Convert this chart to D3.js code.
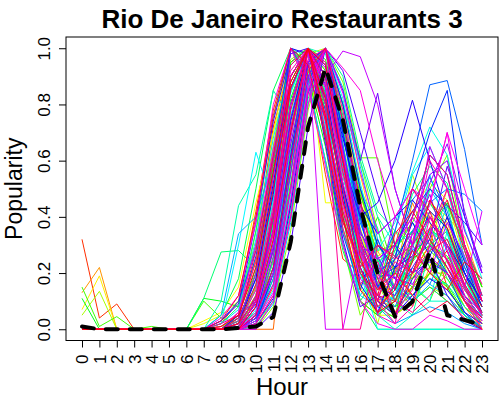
<!DOCTYPE html>
<html>
<head>
<meta charset="utf-8">
<script src="https://cdn.jsdelivr.net/npm/d3@7"></script>
<style>
    body { margin: 0; background: #fff; }
    text { font-family: "Liberation Sans", Arial, sans-serif; }
</style>
</head>
<body>
<div id="chart"></div>
<script>
var hours = [0, 1, 2, 3, 4, 5, 6, 7, 8, 9, 10, 11, 12, 13, 14, 15, 16, 17, 18, 19, 20, 21, 22, 23]
var yTicks = [0, 0.2, 0.4, 0.6, 0.8, 1.0]

// dashed black line (overall curve)
var meanPopularity = [0.01, 0, 0, 0, 0, 0, 0, 0, 0, 0.005, 0.01, 0.044, 0.31, 0.72, 0.93, 0.745, 0.436, 0.2, 0.045, 0.098, 0.276, 0.05, 0.033, 0.015]

// one row per restaurant, popularity by hour
var restaurants = [
    [0, 0, 0, 0, 0, 0, 0, 0, 0, 0.06, 0.3, 0.72, 0.95, 1, 0.7, 0.35, 0.18, 0.3, 0.22, 0.12, 0.2, 0.28, 0.1, 0],
    [0, 0, 0, 0, 0, 0, 0, 0, 0, 0, 0.05, 0.3, 0.75, 1, 0.85, 0.55, 0.3, 0.12, 0.1, 0.2, 0.3, 0.25, 0.1, 0.02],
    [0, 0, 0, 0, 0, 0, 0, 0, 0, 0, 0.02, 0.12, 0.45, 0.85, 1, 0.8, 0.5, 0.25, 0.15, 0.2, 0.3, 0.25, 0.1, 0.03],
    [0.32, 0.04, 0.09, 0, 0, 0, 0, 0, 0, 0, 0.05, 0.4, 0.8, 1, 0.9, 0.6, 0.3, 0.1, 0.15, 0.2, 0.3, 0.25, 0.1, 0.05],
    [0, 0, 0, 0, 0, 0, 0, 0, 0.02, 0.1, 0.42, 0.78, 1, 0.9, 0.55, 0.25, 0.2, 0.1, 0.3, 0.2, 0.35, 0.15, 0.05, 0],
    [0, 0, 0, 0, 0, 0, 0, 0, 0, 0.02, 0.15, 0.55, 1, 0.9, 0.7, 0.4, 0.2, 0.1, 0.08, 0.15, 0.25, 0.2, 0.1, 0],
    [0, 0, 0, 0, 0, 0, 0, 0, 0, 0.02, 0.1, 0.4, 0.85, 1, 0.9, 0.6, 0.35, 0.2, 0.15, 0.25, 0.35, 0.3, 0.15, 0.05],
    [0, 0, 0, 0, 0, 0, 0, 0, 0, 0, 0, 0, 0.6, 1, 0.95, 0.6, 0.3, 0.1, 0.05, 0.1, 0.15, 0.1, 0.05, 0],
    [0, 0, 0, 0, 0, 0, 0, 0, 0, 0, 0.03, 0.15, 0.5, 0.9, 1, 0.75, 0.45, 0.2, 0.1, 0.15, 0.25, 0.2, 0.08, 0],
    [0, 0, 0, 0, 0, 0, 0, 0, 0, 0.04, 0.25, 0.6, 0.9, 1, 0.75, 0.4, 0.1, 0.05, 0.2, 0.45, 0.3, 0.5, 0.25, 0.05],
    [0.13, 0.22, 0, 0, 0, 0, 0, 0, 0, 0.05, 0.15, 0.5, 0.85, 1, 0.95, 0.7, 0.4, 0.2, 0.1, 0.25, 0.4, 0.3, 0.15, 0],
    [0, 0, 0, 0, 0, 0, 0, 0, 0, 0, 0.03, 0.25, 0.7, 1, 0.95, 0.7, 0.4, 0.2, 0.1, 0.15, 0.2, 0.2, 0.1, 0],
    [0, 0, 0, 0, 0, 0, 0, 0, 0.01, 0.05, 0.25, 0.65, 1, 0.95, 0.75, 0.45, 0.25, 0.15, 0.1, 0.2, 0.3, 0.25, 0.15, 0.05],
    [0, 0, 0, 0, 0, 0, 0, 0, 0, 0, 0.2, 0.55, 0.85, 1, 0.9, 0.45, 0.15, 0.28, 0.15, 0.08, 0.22, 0.4, 0.33, 0.15],
    [0, 0, 0, 0, 0, 0, 0, 0, 0, 0, 0.01, 0.1, 0.4, 0.8, 1, 0.85, 0.55, 0.3, 0.25, 0.35, 0.45, 0.38, 0.2, 0.08],
    [0, 0, 0, 0, 0, 0, 0, 0, 0, 0, 0.08, 0.35, 0.8, 1, 0.8, 0.5, 0.25, 0.1, 0.12, 0.3, 0.45, 0.4, 0.2, 0.08],
    [0.07, 0.19, 0, 0, 0, 0, 0, 0, 0, 0, 0.1, 0.45, 0.9, 1, 0.85, 0.6, 0.35, 0.15, 0.2, 0.3, 0.45, 0.35, 0.1, 0.05],
    [0, 0, 0, 0, 0, 0, 0, 0.03, 0.06, 0.15, 0.45, 0.7, 0.92, 1, 0.8, 0.5, 0.35, 0.12, 0.06, 0.18, 0.42, 0.3, 0.12, 0.02],
    [0, 0, 0, 0, 0, 0, 0, 0, 0, 0, 0.05, 0.3, 0.8, 1, 0.45, 0.45, 0.45, 0.3, 0.2, 0.3, 0.4, 0.3, 0.15, 0.05],
    [0, 0, 0, 0, 0, 0, 0, 0.02, 0.05, 0.1, 0.3, 0.7, 1, 0.85, 0.6, 0.35, 0.15, 0.05, 0.05, 0.1, 0.2, 0.15, 0.05, 0],
    [0, 0, 0, 0, 0, 0, 0, 0, 0, 0, 0.05, 0.2, 0.55, 0.92, 1, 0.78, 0.48, 0.26, 0.3, 0.42, 0.52, 0.46, 0.24, 0.1],
    [0, 0, 0, 0, 0, 0, 0, 0, 0.01, 0.03, 0.12, 0.45, 0.88, 1, 0.86, 0.58, 0.32, 0.18, 0.2, 0.32, 0.42, 0.36, 0.22, 0.1],
    [0, 0, 0, 0, 0, 0, 0, 0, 0, 0.03, 0.15, 0.45, 0.82, 0.98, 1, 0.62, 0.22, 0.02, 0.25, 0.55, 0.38, 0.2, 0.08, 0.03],
    [0.05, 0.135, 0, 0, 0, 0, 0, 0, 0, 0, 0.08, 0.3, 0.7, 0.95, 1, 0.8, 0.5, 0.25, 0.15, 0.1, 0.2, 0.15, 0.05, 0],
    [0, 0, 0, 0, 0, 0, 0, 0, 0, 0, 0.02, 0.2, 0.65, 1, 0.92, 0.66, 0.36, 0.16, 0.05, 0.1, 0.15, 0.12, 0.05, 0],
    [0, 0, 0, 0, 0, 0, 0, 0, 0, 0, 0, 0.08, 0.35, 0.78, 1, 0.88, 0.6, 0.35, 0.2, 0.18, 0.22, 0.18, 0.1, 0.02],
    [0, 0, 0, 0, 0, 0, 0, 0, 0.01, 0.04, 0.35, 0.65, 0.96, 1, 0.7, 0.3, 0.05, 0.15, 0.35, 0.25, 0.5, 0.62, 0.28, 0.1],
    [0, 0, 0, 0, 0, 0, 0, 0, 0, 0, 0.1, 0.5, 1, 0.95, 0.8, 0.5, 0.3, 0.2, 0.25, 0.35, 0.4, 0.3, 0.2, 0.1],
    [0, 0, 0, 0, 0, 0, 0, 0, 0, 0, 0.04, 0.25, 0.7, 0.95, 1, 0.8, 0.61, 0.61, 0.3, 0.25, 0.35, 0.3, 0.15, 0.05],
    [0, 0, 0, 0, 0, 0, 0, 0, 0, 0.01, 0.06, 0.32, 0.78, 1, 0.88, 0.62, 0.42, 0.28, 0.3, 0.38, 0.5, 0.44, 0.3, 0.15],
    [0.15, 0.01, 0.045, 0, 0.01, 0, 0, 0.1, 0.04, 0.02, 0.2, 0.5, 0.9, 1, 0.8, 0.55, 0.3, 0.1, 0.05, 0.15, 0.25, 0.2, 0.1, 0.02],
    [0, 0, 0, 0, 0, 0, 0, 0, 0, 0, 0.12, 0.38, 0.7, 1, 0.92, 0.5, 0.25, 0.4, 0.2, 0.15, 0.1, 0.25, 0.3, 0.12],
    [0, 0, 0, 0, 0, 0, 0, 0, 0, 0, 0.04, 0.18, 0.52, 0.88, 1, 0.72, 0.4, 0.16, 0.08, 0.12, 0.2, 0.16, 0.06, 0],
    [0, 0, 0, 0, 0, 0, 0, 0, 0, 0, 0.04, 0.28, 0.72, 1, 0.96, 0.72, 0.48, 0.3, 0.22, 0.18, 0.28, 0.22, 0.12, 0.04],
    [0, 0, 0, 0, 0, 0, 0, 0, 0, 0.03, 0.2, 0.6, 1, 0.9, 0.65, 0.3, 0.1, 0.05, 0.1, 0.2, 0.35, 0.45, 0.3, 0.15],
    [0, 0, 0, 0, 0, 0, 0, 0, 0, 0.02, 0.22, 0.58, 0.88, 1, 0.78, 0.42, 0.2, 0.08, 0.04, 0.35, 0.22, 0.15, 0.05, 0],
    [0.11, 0, 0, 0, 0, 0, 0, 0.11, 0.1, 0.08, 0.3, 0.6, 0.95, 1, 0.9, 0.6, 0.3, 0.2, 0.2, 0.25, 0.3, 0.35, 0.2, 0.1],
    [0, 0, 0, 0, 0, 0, 0, 0, 0, 0.01, 0.06, 0.22, 0.58, 0.94, 1, 0.76, 0.44, 0.24, 0.28, 0.38, 0.3, 0.26, 0.16, 0.06],
    [0, 0, 0, 0, 0, 0, 0, 0, 0, 0, 0.1, 0.38, 0.82, 1, 0.84, 0.52, 0.2, 0.05, 0.1, 0.25, 0.35, 0.32, 0.18, 0.06],
    [0, 0, 0, 0, 0, 0, 0, 0, 0, 0, 0.1, 0.5, 0.9, 1, 0.8, 0.4, 0.1, 0, 0, 0, 0, 0, 0, 0],
    [0, 0, 0, 0, 0, 0, 0, 0, 0.05, 0.18, 0.5, 0.85, 1, 0.88, 0.6, 0.28, 0.1, 0.2, 0.14, 0.24, 0.32, 0.18, 0.08, 0.02],
    [0, 0, 0, 0, 0, 0, 0, 0, 0.02, 0.08, 0.35, 0.75, 1, 0.92, 0.7, 0.5, 0.3, 0.2, 0.15, 0.1, 0.15, 0.1, 0.05, 0],
    [0, 0, 0, 0, 0, 0, 0, 0.11, 0.275, 0.28, 0.22, 0.5, 0.8, 1, 0.95, 0.7, 0.45, 0.25, 0.1, 0.3, 0.45, 0.35, 0.15, 0.05],
    [0, 0, 0, 0, 0, 0, 0, 0, 0, 0.02, 0.14, 0.5, 0.9, 1, 0.8, 0.48, 0.24, 0.14, 0.28, 0.48, 0.58, 0.52, 0.28, 0.1],
    [0, 0, 0, 0, 0, 0, 0, 0, 0, 0, 0.02, 0.1, 0.42, 0.82, 1, 0.9, 0.62, 0.42, 0.35, 0.3, 0.36, 0.3, 0.18, 0.08],
    [0, 0, 0, 0, 0, 0, 0, 0, 0, 0, 0.06, 0.24, 0.64, 0.9, 1, 0.72, 0.5, 0.36, 0.1, 0.05, 0.28, 0.44, 0.2, 0.08],
    [0, 0, 0, 0, 0, 0, 0, 0, 0.1, 0.44, 0.55, 0.85, 0.75, 0.9, 1, 0.8, 0.6, 0.4, 0.3, 0.35, 0.3, 0.2, 0.1, 0.05],
    [0, 0, 0, 0, 0, 0, 0, 0, 0, 0, 0.03, 0.22, 0.6, 1, 0.98, 0.75, 0.45, 0.25, 0.15, 0.12, 0.18, 0.16, 0.08, 0.02],
    [0, 0, 0, 0, 0, 0, 0, 0, 0, 0, 0.05, 0.45, 1, 0.97, 0.85, 0.55, 0.25, 0.05, 0, 0.05, 0.1, 0.1, 0.05, 0],
    [0, 0, 0, 0, 0, 0, 0, 0, 0, 0.01, 0.16, 0.46, 0.84, 1, 0.8, 0.36, 0.12, 0.22, 0.3, 0.16, 0.1, 0.35, 0.18, 0.04],
    [0, 0, 0, 0, 0, 0, 0, 0, 0, 0, 0.03, 0.14, 0.48, 0.86, 1, 0.82, 0.52, 0.28, 0.38, 0.56, 0.72, 0.62, 0.36, 0.18],
    [0, 0, 0, 0, 0, 0, 0, 0, 0, 0, 0.05, 0.3, 0.8, 1, 0.9, 0.5, 0.2, 0, 0, 0, 0, 0, 0, 0],
    [0, 0, 0, 0, 0, 0, 0, 0, 0.02, 0.3, 0.63, 0.45, 0.6, 0.9, 1, 0.7, 0.4, 0.15, 0.1, 0.2, 0.35, 0.3, 0.1, 0.02],
    [0, 0, 0, 0, 0, 0, 0, 0, 0, 0, 0.07, 0.34, 0.76, 1, 0.9, 0.64, 0.38, 0.22, 0.35, 0.55, 0.65, 0.5, 0.25, 0.12],
    [0, 0, 0, 0, 0, 0, 0, 0, 0.02, 0.07, 0.32, 0.68, 0.94, 1, 0.72, 0.4, 0.3, 0.05, 0.12, 0.28, 0.55, 0.34, 0.14, 0.05],
    [0, 0, 0, 0, 0, 0, 0, 0, 0, 0.01, 0.12, 0.5, 1, 0.88, 0.6, 0.3, 0.12, 0.08, 0.12, 0.3, 0.5, 0.4, 0.25, 0.1],
    [0, 0, 0, 0, 0, 0, 0, 0, 0, 0, 0.01, 0.09, 0.38, 0.8, 1, 0.86, 0.58, 0.32, 0.14, 0.1, 0.16, 0.12, 0.05, 0.01],
    [0, 0, 0, 0, 0, 0, 0, 0, 0.05, 0.34, 0.4, 0.6, 0.85, 1, 0.9, 0.65, 0.3, 0.15, 0.2, 0.25, 0.4, 0.3, 0.2, 0.05],
    [0, 0, 0, 0, 0, 0, 0, 0, 0, 0, 0.02, 0.18, 0.55, 1, 0.9, 0.58, 0.28, 0.08, 0.02, 0.05, 0.08, 0.06, 0.02, 0],
    [0, 0, 0, 0, 0, 0, 0, 0, 0, 0, 0.1, 0.3, 0.6, 0.88, 1, 0.66, 0.3, 0.12, 0.08, 0.22, 0.16, 0.3, 0.22, 0.12],
    [0, 0, 0, 0, 0, 0, 0, 0, 0, 0, 0.03, 0.2, 0.6, 0.95, 1, 0.7, 0.35, 0.2, 0.25, 0.35, 0.45, 0.5, 0.48, 0.42],
    [0, 0, 0, 0, 0, 0, 0, 0, 0, 0, 0.04, 0.16, 0.5, 0.9, 1, 0.7, 0.38, 0.2, 0.26, 0.46, 0.54, 0.42, 0.22, 0.08],
    [0, 0, 0, 0, 0, 0, 0, 0, 0, 0, 0.05, 0.3, 0.7, 1, 0.8, 0.5, 0.3, 0.2, 0.35, 0.6, 0.87, 0.885, 0.64, 0.3],
    [0, 0, 0, 0, 0, 0, 0, 0, 0.03, 0.1, 0.28, 0.62, 1, 0.94, 0.78, 0.5, 0.28, 0.18, 0.22, 0.28, 0.32, 0.22, 0.12, 0.04],
    [0, 0, 0, 0, 0, 0, 0, 0, 0, 0.05, 0.26, 0.56, 0.9, 1, 0.68, 0.34, 0.14, 0.32, 0.18, 0.1, 0.3, 0.2, 0.06, 0],
    [0, 0, 0, 0, 0, 0, 0, 0, 0, 0.02, 0.11, 0.42, 0.86, 1, 0.83, 0.5, 0.22, 0.06, 0.16, 0.4, 0.62, 0.55, 0.3, 0.12],
    [0, 0, 0, 0, 0, 0, 0, 0, 0, 0, 0.02, 0.2, 0.6, 0.95, 1, 0.7, 0.4, 0.15, 0.25, 0.5, 0.7, 0.85, 0.4, 0.2],
    [0, 0, 0, 0, 0, 0, 0, 0, 0, 0, 0.02, 0.11, 0.44, 0.84, 1, 0.8, 0.5, 0.3, 0.22, 0.26, 0.42, 0.36, 0.2, 0.06],
    [0, 0, 0, 0, 0, 0, 0, 0, 0, 0.02, 0.18, 0.52, 0.86, 1, 0.86, 0.48, 0.16, 0.06, 0.22, 0.38, 0.26, 0.4, 0.24, 0.08],
    [0, 0, 0, 0, 0, 0, 0, 0, 0, 0, 0.05, 0.3, 0.74, 1, 0.94, 0.68, 0.44, 0.34, 0.4, 0.46, 0.38, 0.3, 0.2, 0.1],
    [0, 0, 0, 0, 0, 0, 0, 0, 0, 0.04, 0.18, 0.48, 1, 0.98, 0.82, 0.52, 0.22, 0.1, 0.05, 0.12, 0.18, 0.14, 0.06, 0.02],
    [0, 0, 0, 0, 0, 0, 0, 0, 0, 0.05, 0.1, 0.4, 0.8, 1, 0.9, 0.6, 0.4, 0.45, 0.6, 0.815, 0.6, 0.4, 0.2, 0.1],
    [0, 0, 0, 0, 0, 0, 0, 0, 0, 0, 0.04, 0.22, 0.62, 1, 0.9, 0.6, 0.3, 0.25, 0.3, 0.42, 0.5, 0.44, 0.38, 0.3],
    [0, 0, 0, 0, 0, 0, 0, 0, 0.03, 0.09, 0.38, 0.74, 0.98, 1, 0.66, 0.32, 0.08, 0.12, 0.05, 0.18, 0.25, 0.12, 0.03, 0],
    [0, 0, 0, 0, 0, 0, 0, 0, 0, 0, 0, 0.06, 0.3, 0.72, 1, 0.92, 0.7, 0.48, 0.3, 0.2, 0.24, 0.2, 0.12, 0.04],
    [0, 0, 0, 0, 0, 0, 0, 0, 0, 0.01, 0.09, 0.36, 0.8, 1, 0.87, 0.6, 0.33, 0.15, 0.12, 0.22, 0.32, 0.58, 0.4, 0.22],
    [0, 0, 0, 0, 0, 0, 0, 0, 0, 0, 0.1, 0.35, 0.75, 0.95, 1, 0.85, 0.6, 0.84, 0.5, 0.3, 0.4, 0.3, 0.15, 0.05],
    [0, 0, 0, 0, 0, 0, 0, 0, 0, 0, 0.08, 0.28, 0.66, 0.94, 1, 0.64, 0.34, 0.26, 0.14, 0.34, 0.48, 0.28, 0.12, 0.06],
    [0, 0, 0, 0, 0, 0, 0, 0, 0, 0, 0.08, 0.4, 1, 0.9, 0.75, 0.45, 0.3, 0.25, 0.3, 0.4, 0.55, 0.6, 0.35, 0.2],
    [0, 0, 0, 0, 0, 0, 0, 0, 0, 0, 0.05, 0.2, 0.56, 0.9, 1, 0.74, 0.42, 0.22, 0.18, 0.3, 0.52, 0.66, 0.42, 0.2],
    [0, 0, 0, 0, 0, 0, 0, 0, 0, 0, 0.04, 0.26, 0.68, 1, 0.93, 0.63, 0.35, 0.21, 0.18, 0.16, 0.26, 0.2, 0.11, 0.03],
    [0, 0, 0, 0, 0, 0, 0, 0, 0, 0.03, 0.2, 0.54, 0.9, 1, 0.74, 0.38, 0.26, 0.16, 0.4, 0.3, 0.2, 0.38, 0.26, 0.1],
    [0, 0, 0, 0, 0, 0, 0, 0, 0, 0, 0.05, 0.2, 0.5, 0.85, 0.9, 0.99, 0.97, 0.8, 0.5, 0.3, 0.65, 0.5, 0.3, 0.1],
    [0, 0, 0, 0, 0, 0, 0, 0, 0, 0, 0.1, 0.35, 0.9, 1, 0, 0, 0.3, 0.25, 0.3, 0.4, 0.3, 0.25, 0.15, 0.42],
    [0, 0, 0, 0, 0, 0, 0, 0, 0, 0, 0.03, 0.13, 0.46, 0.87, 1, 0.84, 0.56, 0.34, 0.4, 0.5, 0.4, 0.3, 0.16, 0.05],
    [0, 0, 0, 0, 0, 0, 0, 0, 0.01, 0.06, 0.3, 0.64, 0.92, 1, 0.76, 0.44, 0.18, 0.1, 0.16, 0.26, 0.36, 0.24, 0.1, 0.03],
    [0, 0, 0, 0, 0, 0, 0, 0, 0, 0, 0.06, 0.3, 0.7, 1, 0.86, 0.56, 0.27, 0.12, 0.2, 0.34, 0.44, 0.7, 0.5, 0.3],
    [0, 0, 0, 0, 0, 0, 0, 0, 0.04, 0.12, 0.38, 0.8, 1, 0.86, 0.58, 0.3, 0.1, 0.02, 0, 0, 0.05, 0.03, 0, 0],
    [0, 0, 0, 0, 0, 0, 0, 0, 0, 0, 0, 0.1, 0.4, 0.8, 1, 0.93, 0.85, 0.6, 0.4, 0.5, 0.45, 0.7, 0.3, 0.1],
    [0, 0, 0, 0, 0, 0, 0, 0, 0, 0.02, 0.14, 0.44, 0.8, 1, 0.88, 0.52, 0.3, 0.2, 0.06, 0.14, 0.4, 0.28, 0.12, 0.04],
    [0, 0, 0, 0, 0, 0, 0, 0, 0, 0, 0.02, 0.12, 0.4, 0.85, 1, 0.78, 0.45, 0.05, 0.02, 0.3, 0.6, 0.5, 0.3, 0.1],
    [0, 0, 0, 0, 0, 0, 0, 0, 0, 0, 0.02, 0.16, 0.5, 1, 0.95, 0.62, 0.3, 0.1, 0.02, 0.08, 0.3, 0.22, 0.1, 0],
    [0, 0, 0, 0, 0, 0, 0, 0, 0, 0, 0.1, 0.34, 0.72, 0.96, 1, 0.6, 0.28, 0.14, 0.24, 0.2, 0.34, 0.5, 0.3, 0.16],
    [0, 0, 0, 0, 0, 0, 0, 0, 0, 0, 0.1, 0.35, 0.9, 1, 0.8, 0.0, 0, 0.3, 0.25, 0.3, 0.4, 0.3, 0.15, 0.05],
    [0, 0, 0, 0, 0, 0, 0, 0, 0.02, 0.05, 0.24, 0.6, 0.9, 1, 0.7, 0.36, 0.16, 0.24, 0.1, 0.06, 0.12, 0.2, 0.1, 0.02],
    [0, 0, 0, 0, 0, 0, 0, 0, 0, 0.02, 0.11, 0.42, 0.86, 1, 0.83, 0.5, 0.22, 0.06, 0.16, 0.4, 0.62, 0.55, 0.3, 0.12],
    [0, 0, 0, 0, 0, 0, 0, 0, 0, 0.01, 0.12, 0.4, 0.78, 1, 0.9, 0.56, 0.32, 0.1, 0.3, 0.5, 0.42, 0.24, 0.14, 0.06],
    [0, 0, 0, 0, 0, 0, 0, 0, 0, 0.04, 0.28, 0.62, 0.94, 1, 0.74, 0.42, 0.22, 0.3, 0.26, 0.2, 0.28, 0.32, 0.16, 0.06],
    [0, 0, 0, 0, 0, 0, 0, 0, 0, 0, 0.05, 0.22, 0.6, 0.92, 1, 0.74, 0.46, 0.18, 0.05, 0.2, 0.36, 0.46, 0.28, 0.1],
    [0, 0, 0, 0, 0, 0, 0, 0, 0.03, 0.12, 0.4, 0.76, 1, 0.94, 0.68, 0.38, 0.24, 0.14, 0.2, 0.12, 0.06, 0.1, 0.04, 0],
    [0, 0, 0, 0, 0, 0, 0, 0, 0, 0.02, 0.16, 0.5, 0.86, 1, 0.82, 0.46, 0.2, 0.12, 0.34, 0.42, 0.32, 0.22, 0.1, 0.04],
    [0, 0, 0, 0, 0, 0, 0, 0, 0, 0, 0.08, 0.32, 0.7, 1, 0.94, 0.6, 0.26, 0.08, 0.14, 0.28, 0.2, 0.14, 0.24, 0.18],
    [0, 0, 0, 0, 0, 0, 0, 0, 0.01, 0.05, 0.22, 0.56, 0.88, 1, 0.76, 0.4, 0.14, 0.06, 0.1, 0.24, 0.46, 0.36, 0.18, 0.08]
]

var margin = { top: 37, right: 2, bottom: 59.5, left: 66 },
    width = 500 - margin.left - margin.right,
    height = 400 - margin.top - margin.bottom;

var svg = d3.select("#chart")
    .append("svg")
    .attr("width", 500)
    .attr("height", 400)
    .append("g")
    .attr("transform", "translate(" + margin.left + "," + margin.top + ")");

// R style: 4% padding on both axes
var x = d3.scaleLinear()
    .domain([-0.92, 23.92])
    .range([0, width]);
var y = d3.scaleLinear()
    .domain([-0.04, 1.04])
    .range([height, 0]);

var xAxis = svg.append("g")
    .attr("transform", "translate(0," + height + ")")
    .call(d3.axisBottom(x).tickValues(hours).tickSize(7).tickFormat(d3.format("d")));
xAxis.select(".domain").remove();
xAxis.selectAll("text")
    .attr("transform", "rotate(-90)")
    .attr("text-anchor", "end")
    .attr("x", -14)
    .attr("y", 0)
    .attr("dy", "0.35em")
    .style("font-size", "17px")
    .style("font-family", "Liberation Sans, Arial, sans-serif")
    .attr("fill", "#000");

var yAxis = svg.append("g")
    .call(d3.axisLeft(y).tickValues(yTicks).tickSize(7).tickFormat(d3.format(".1f")));
yAxis.select(".domain").remove();
yAxis.selectAll("text")
    .attr("transform", "rotate(-90)")
    .attr("text-anchor", "middle")
    .attr("x", 0)
    .attr("y", -16)
    .attr("dy", 0)
    .style("font-size", "17px")
    .style("font-family", "Liberation Sans, Arial, sans-serif")
    .attr("fill", "#000");

var line = d3.line()
    .x(function (d, i) { return x(hours[i]) })
    .y(function (d) { return y(d) });

// rainbow palette, one colour per restaurant
var n = restaurants.length;
svg.selectAll(".restaurant")
    .data(restaurants)
    .enter()
    .append("path")
    .attr("class", "restaurant")
    .attr("d", line)
    .attr("fill", "none")
    .attr("stroke-width", 1)
    .attr("stroke", function (d, i) { return d3.hsl(360 * i / n, 1, 0.5) });

svg.append("path")
    .datum(meanPopularity)
    .attr("d", line)
    .attr("fill", "none")
    .attr("stroke", "#000")
    .attr("stroke-width", 4)
    .attr("stroke-dasharray", "12,12")
    .attr("stroke-linecap", "round")
    .attr("stroke-linejoin", "round");

// plot box
svg.append("rect")
    .attr("width", width)
    .attr("height", height)
    .attr("fill", "none")
    .attr("stroke", "#000");

svg.append("text")
    .attr("x", width / 2)
    .attr("y", 28 - margin.top)
    .attr("text-anchor", "middle")
    .style("font-size", "26px")
    .style("font-weight", "bold")
    .text("Rio De Janeiro Restaurants 3");

svg.append("text")
    .attr("x", width / 2)
    .attr("y", 395 - margin.top)
    .attr("text-anchor", "middle")
    .style("font-size", "24px")
    .text("Hour");

svg.append("text")
    .attr("transform", "translate(" + (22 - margin.left) + "," + (height / 2) + ") rotate(-90)")
    .attr("text-anchor", "middle")
    .style("font-size", "23px")
    .text("Popularity");
</script>
</body>
</html>
